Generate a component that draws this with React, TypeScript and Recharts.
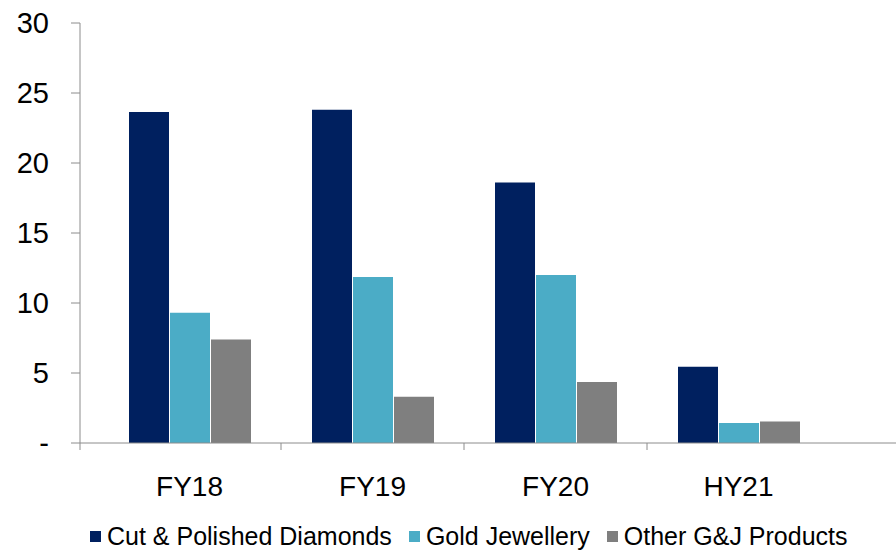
import React from "react";
import { BarChart, Bar, XAxis, YAxis, Legend } from "recharts";

const periods = ["FY18", "FY19", "FY20", "HY21"];
const cutPolished = [23.65, 23.8, 18.6, 5.45];
const goldJewellery = [9.3, 11.85, 12.0, 1.43];
const otherGJ = [7.4, 3.3, 4.35, 1.53];

const yTicks = [0, 5, 10, 15, 20, 25, 30];

const series = [
  { key: "cut", name: "Cut & Polished Diamonds", color: "#00205F" },
  { key: "gold", name: "Gold Jewellery", color: "#4BACC6" },
  { key: "other", name: "Other G&J Products", color: "#7F7F7F" },
];

const data = periods.map((p, i) => ({
  period: p,
  cut: cutPolished[i],
  gold: goldJewellery[i],
  other: otherGJ[i],
}));

const FONT = '"Liberation Sans", Arial, sans-serif';
const AXIS_GREY = "#8c8c8c";
const PAD_LEFT = 18;
const PAD_RIGHT = 66;
const BAND = (816 - PAD_LEFT - PAD_RIGHT) / periods.length;

function CategoryTick(props: any) {
  const { x, y, payload, index } = props;
  const edge = index === 0 ? x - BAND / 2 - PAD_LEFT : x - BAND / 2;
  return (
    <g>
      <line x1={edge} y1={y} x2={edge} y2={y + 7} stroke={AXIS_GREY} strokeWidth={1} />
      <text x={x} y={y + 53} textAnchor="middle" fontSize={28} fontFamily={FONT} fill="#000">
        {payload.value}
      </text>
    </g>
  );
}

function LegendRow() {
  return (
    <div
      style={{
        height: 44,
        paddingTop: 16,
        boxSizing: "border-box",
        display: "flex",
        alignItems: "center",
        paddingLeft: 90,
        fontFamily: FONT,
        fontSize: 25,
        lineHeight: "28px",
        color: "#000",
        whiteSpace: "nowrap",
      }}
    >
      {series.map((s) => (
        <span key={s.key} style={{ display: "inline-flex", alignItems: "center", marginRight: 17 }}>
          <span style={{ width: 11, height: 11, background: s.color, marginRight: 6, display: "inline-block" }} />
          <span>{s.name}</span>
        </span>
      ))}
    </div>
  );
}

export default function App() {
  return (
    <div style={{ position: "absolute", left: 0, top: 0, background: "#fff" }}>
      <BarChart
        width={896}
        height={550}
        data={data}
        margin={{ top: 23, right: 0, bottom: 0, left: 0 }}
        barCategoryGap={31}
        barGap={1}
      >
        <XAxis
          dataKey="period"
          height={63}
          padding={{ left: PAD_LEFT, right: PAD_RIGHT }}
          stroke={AXIS_GREY}
          tickLine={false}
          tickSize={0}
          tickMargin={0}
          interval={0}
          tick={<CategoryTick />}
        />
        <YAxis
          width={80}
          domain={[0, 30]}
          ticks={yTicks}
          interval={0}
          stroke={AXIS_GREY}
          tickSize={9}
          tickMargin={22}
          tick={{ fontSize: 29, fontFamily: FONT, fill: "#000" }}
          tickFormatter={(v: number) => (v === 0 ? "-" : String(v))}
        />
        <Legend verticalAlign="bottom" content={<LegendRow />} />
        {series.map((s) => (
          <Bar key={s.key} dataKey={s.key} name={s.name} fill={s.color} isAnimationActive={false} />
        ))}
      </BarChart>
    </div>
  );
}
